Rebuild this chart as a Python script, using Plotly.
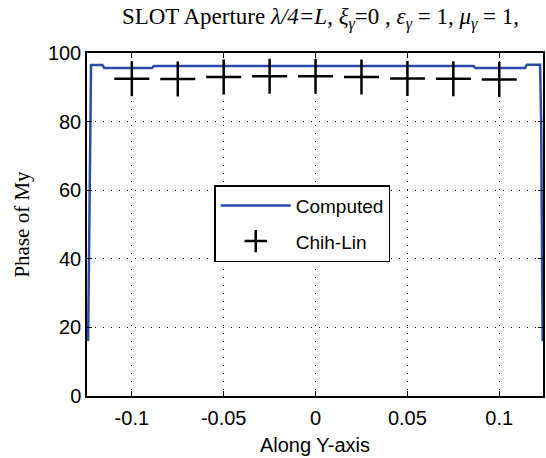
import plotly.graph_objects as go

# Computed curve (phase of My along Y-axis)
computed_x = [-0.1238, -0.1233, -0.1228, -0.1222, -0.1160, -0.1150, -0.0890, -0.0880,
              -0.05, 0.0, 0.05, 0.0860, 0.0870, 0.1140, 0.1150, 0.1222, 0.1228, 0.1232, 0.1236]
computed_y = [16, 48, 80, 96.5, 96.5, 95.6, 95.6, 96.2,
              96.2, 96.2, 96.2, 96.2, 95.6, 95.6, 96.6, 96.6, 80, 48, 16]

# Chih-Lin reference points
chihlin_x = [-0.1, -0.075, -0.05, -0.025, 0.0, 0.025, 0.05, 0.075, 0.1]
chihlin_y = [92.5, 92.4, 93.0, 93.2, 93.2, 93.0, 92.6, 92.5, 92.3]

x_ticks = [-0.1, -0.05, 0, 0.05, 0.1]
x_ticktext = ["-0.1", "-0.05", "0", "0.05", "0.1"]
y_ticks = [0, 20, 40, 60, 80, 100]

fig = go.Figure()
fig.add_trace(go.Scatter(x=computed_x, y=computed_y, mode="lines", name="Computed",
                         legendgroup="a",
                         line=dict(color="rgb(42,76,168)", width=2.5)))
fig.add_trace(go.Scatter(x=chihlin_x, y=chihlin_y, mode="markers", name="Chih-Lin",
                         legendgroup="b",
                         marker=dict(symbol="cross-thin", size=25, color="black",
                                     line=dict(color="black", width=2.5))))

sans = "Liberation Sans, Arial, sans-serif"
serif = "Liberation Serif, Times New Roman, serif"

fig.update_layout(
    width=546, height=458,
    margin=dict(l=87, r=1, t=53, b=62),
    paper_bgcolor="white", plot_bgcolor="white",
    title=dict(
        text="SLOT Aperture <i>λ/4=L</i>, <i>ξ<sub>γ</sub></i>=0 , <i>ε<sub>γ</sub></i> = 1, <i>μ<sub>γ</sub></i> = 1,",
        x=0.587, xanchor="center", y=0.982, yanchor="top",
        font=dict(family=serif, size=23, color="black")),
    showlegend=True,
    legend=dict(x=0.279, xanchor="left", y=0.615, yanchor="top",
                bgcolor="white", bordercolor="black", borderwidth=1.5,
                font=dict(family=sans, size=19, color="black"),
                itemwidth=70, tracegroupgap=8),
    font=dict(family=sans, size=20, color="black"),
)
fig.update_xaxes(range=[-0.1244, 0.1238], tickvals=x_ticks, ticktext=x_ticktext,
                 showline=True, linecolor="black", linewidth=1.5, mirror="ticks",
                 ticks="inside", ticklen=5, tickcolor="black",
                 showgrid=True, gridcolor="black", gridwidth=1, griddash="1px,7px",
                 zeroline=False, ticklabelstandoff=3,
                 title=dict(text="Along Y-axis", font=dict(family=sans, size=20), standoff=10),
                 tickfont=dict(family=sans, size=20))
fig.update_yaxes(range=[0, 100], tickvals=y_ticks,
                 showline=True, linecolor="black", linewidth=1.5, mirror="ticks",
                 ticks="inside", ticklen=5, tickcolor="black",
                 showgrid=True, gridcolor="black", gridwidth=1, griddash="1px,7px",
                 zeroline=False,
                 title=dict(text="Phase of My", font=dict(family=serif, size=21), standoff=13),
                 tickfont=dict(family=sans, size=20))

fig.write_html("out.html")
